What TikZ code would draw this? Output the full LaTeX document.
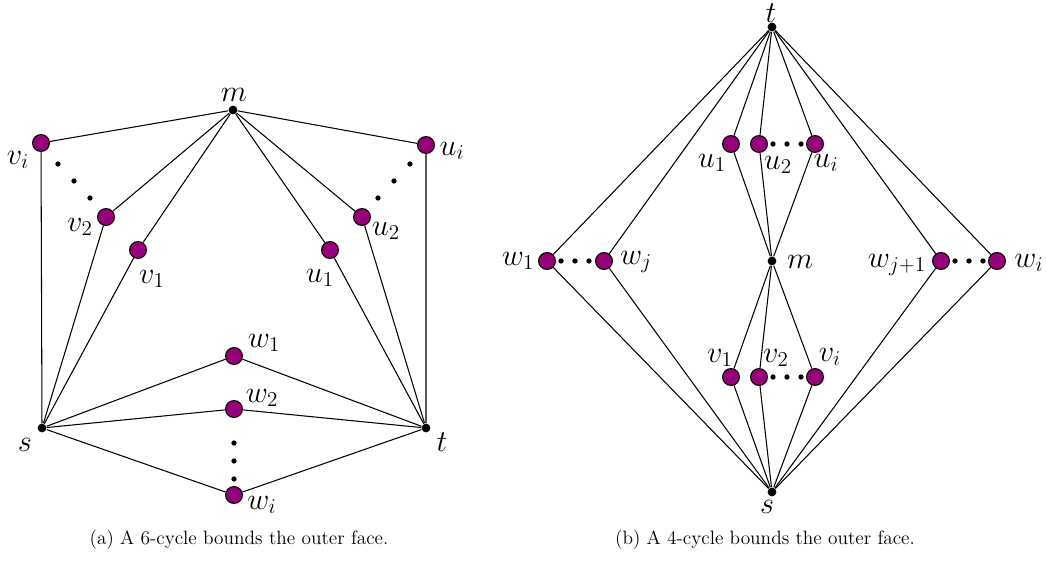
\documentclass[tikz,border=0pt]{standalone}
\definecolor{vertexpurple}{RGB}{150,0,120}
\tikzset{
  pv/.style={circle,draw=black,fill=vertexpurple,inner sep=0pt,minimum size=9.6pt},
  bv/.style={circle,fill=black,inner sep=0pt,minimum size=5pt},
  dt/.style={circle,fill=black,inner sep=0pt,minimum size=3pt},
  lbl/.style={inner sep=0pt,font=\fontsize{17}{20}\selectfont}
}
\begin{document}
\begin{tikzpicture}[x=0.02cm,y=-0.02cm,line width=0.6pt]
  \useasboundingbox (0,0) rectangle (1046,565);
  % (a) 6-cycle
  \node[bv] (m) at (233,110) {};
  \node[bv] (s) at (42,428) {};
  \node[bv] (t) at (426,428) {};
  \node[pv] (vi) at (41,143) {};
  \node[pv] (v2) at (106,217) {};
  \node[pv] (v1) at (138,250) {};
  \node[pv] (ui) at (426,145) {};
  \node[pv] (u2) at (362,217) {};
  \node[pv] (u1) at (330,250) {};
  \node[pv] (w1) at (234,356) {};
  \node[pv] (w2) at (234,409) {};
  \node[pv] (wi) at (234,495) {};
  \draw (s) -- (vi) -- (m) -- (ui) -- (t);
  \draw (s) -- (v2) -- (m) -- (u2) -- (t);
  \draw (s) -- (v1) -- (m) -- (u1) -- (t);
  \draw (s) -- (w1) -- (t);
  \draw (s) -- (w2) -- (t);
  \draw (s) -- (wi) -- (t);
  \node[dt] (dv1) at (58,164) {};
  \node[dt] (dv2) at (74,181) {};
  \node[dt] (dv3) at (90,198) {};
  \node[dt] (du1) at (410,164) {};
  \node[dt] (du2) at (394,181) {};
  \node[dt] (du3) at (378,198) {};
  \node[dt] (dw1) at (234,443) {};
  \node[dt] (dw2) at (234,461) {};
  \node[dt] (dw3) at (234,479) {};
  \node[lbl] (lm) at (234,95) {$m$};
  \node[lbl] (ls) at (25,445) {$s$};
  \node[lbl] (lt) at (442,442) {$t$};
  \node[lbl] (lvi) at (18,160) {$v_i$};
  \node[lbl] (lv2) at (80,227) {$v_2$};
  \node[lbl] (lv1) at (152,279) {$v_1$};
  \node[lbl] (lui) at (452,151) {$u_i$};
  \node[lbl] (lu2) at (386,231) {$u_2$};
  \node[lbl] (lu1) at (320,278) {$u_1$};
  \node[lbl] (lw1) at (264,343) {$w_1$};
  \node[lbl] (lw2) at (262,398) {$w_2$};
  \node[lbl] (lwi) at (262,505) {$w_i$};
  \node[font=\fontsize{11}{13}\selectfont] (capa) at (239,540) {(a) A 6-cycle bounds the outer face.};
  % (b) 4-cycle
  \node[bv] (T) at (772,27) {};
  \node[bv] (S) at (772,492) {};
  \node[bv] (M) at (772,261) {};
  \node[pv] (U1) at (731,144) {};
  \node[pv] (U2) at (759,144) {};
  \node[pv] (Ui) at (815,144) {};
  \node[pv] (V1) at (731,377) {};
  \node[pv] (V2) at (759,377) {};
  \node[pv] (Vi) at (815,377) {};
  \node[pv] (W1) at (547,261) {};
  \node[pv] (Wj) at (604,261) {};
  \node[pv] (Wk) at (941,261) {};
  \node[pv] (Wi) at (997,261) {};
  \draw (T) -- (U1) -- (M) -- (V1) -- (S);
  \draw (T) -- (U2) -- (M) -- (V2) -- (S);
  \draw (T) -- (Ui) -- (M) -- (Vi) -- (S);
  \draw (T) -- (W1) -- (S);
  \draw (T) -- (Wj) -- (S);
  \draw (T) -- (Wk) -- (S);
  \draw (T) -- (Wi) -- (S);
  \node[dt] (DU1) at (773,144) {};
  \node[dt] (DU2) at (787,144) {};
  \node[dt] (DU3) at (801,144) {};
  \node[dt] (DV1) at (773,377) {};
  \node[dt] (DV2) at (787,377) {};
  \node[dt] (DV3) at (801,377) {};
  \node[dt] (DW1) at (561,261) {};
  \node[dt] (DW2) at (575,261) {};
  \node[dt] (DW3) at (589,261) {};
  \node[dt] (DW4) at (955,261) {};
  \node[dt] (DW5) at (969,261) {};
  \node[dt] (DW6) at (983,261) {};
  \node[lbl] (LT) at (771,13) {$t$};
  \node[lbl] (LS) at (767,507) {$s$};
  \node[lbl] (LM) at (800,262) {$m$};
  \node[lbl] (LU1) at (712,163) {$u_1$};
  \node[lbl] (LU2) at (778,165) {$u_2$};
  \node[lbl] (LUi) at (826,163) {$u_i$};
  \node[lbl] (LV1) at (720,358) {$v_1$};
  \node[lbl] (LV2) at (776,358) {$v_2$};
  \node[lbl] (LVi) at (830,357) {$v_i$};
  \node[lbl] (LW1) at (518,261) {$w_1$};
  \node[lbl] (LWj) at (636,262) {$w_j$};
  \node[lbl] (LWk) at (897,265) {$w_{j+1}$};
  \node[lbl] (LWi) at (1029,263) {$w_i$};
  \node[font=\fontsize{11}{13}\selectfont] (capb) at (765,540) {(b) A 4-cycle bounds the outer face.};
\end{tikzpicture}
\end{document}
